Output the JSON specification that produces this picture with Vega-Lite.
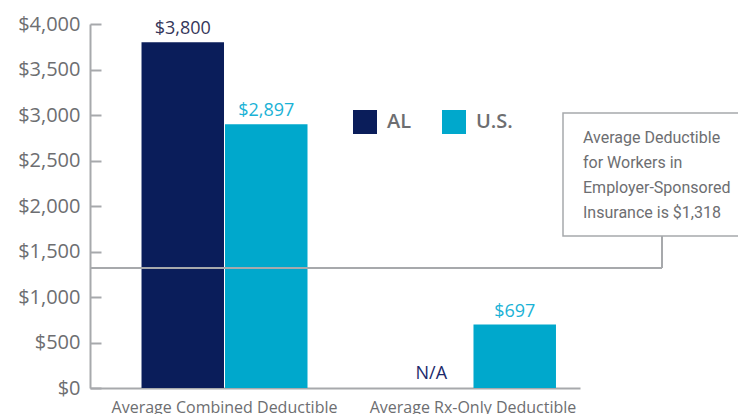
{
  "$schema": "https://vega.github.io/schema/vega-lite/v6.json",
  "width": 490,
  "height": 364,
  "autosize": {"type": "none"},
  "padding": {"left": 90, "top": 24, "right": 158, "bottom": 26},
  "background": "white",
  "config": {"view": {"stroke": null}, "font": "Open Sans"},
  "data": {
    "values": [
      {"category": "Average Combined Deductible", "series": "AL", "value": 3800, "note": ""},
      {"category": "Average Combined Deductible", "series": "U.S.", "value": 2897, "note": ""},
      {"category": "Average Rx-Only Deductible", "series": "AL", "value": null, "note": "N/A"},
      {"category": "Average Rx-Only Deductible", "series": "U.S.", "value": 697, "note": ""}
    ]
  },
  "encoding": {
    "x": {
      "field": "category",
      "type": "nominal",
      "sort": null,
      "scale": {"paddingInner": 0.332, "paddingOuter": 0.152, "align": 0.682},
      "axis": {
        "title": null,
        "ticks": false,
        "labelAngle": 0,
        "labelFontSize": 16,
        "labelColor": "#6d6e71",
        "labelBaseline": "top",
        "labelPadding": 11,
        "labelLimit": 0,
        "domainColor": "#a7a9ac",
        "domainWidth": 2
      }
    },
    "xOffset": {"field": "series", "type": "nominal", "scale": {"paddingInner": 0.012}}
  },
  "layer": [
    {
      "mark": {"type": "bar"},
      "encoding": {
        "y": {
          "field": "value",
          "type": "quantitative",
          "scale": {"domain": [0, 4000], "nice": false},
          "axis": {
            "title": null,
            "values": [0, 500, 1000, 1500, 2000, 2500, 3000, 3500, 4000],
            "format": "$,.0f",
            "grid": false,
            "labelFontSize": 20,
            "labelColor": "#6d6e71",
            "labelPadding": 21,
            "domainColor": "#a7a9ac",
            "domainWidth": 2,
            "tickColor": "#a7a9ac",
            "tickWidth": 2,
            "tickSize": -11
          }
        },
        "color": {
          "field": "series",
          "type": "nominal",
          "scale": {"domain": ["AL", "U.S."], "range": ["#0a1d5a", "#00a8cc"]},
          "legend": {
            "title": null,
            "orient": "none",
            "direction": "horizontal",
            "legendX": 263,
            "legendY": 86,
            "symbolType": "square",
            "symbolSize": 576,
            "symbolStrokeWidth": 0,
            "labelFontSize": 20,
            "labelFontWeight": 600,
            "labelColor": "#6d6e71",
            "labelOffset": 10,
            "columnPadding": 30
          }
        }
      }
    },
    {
      "transform": [{"filter": "datum.value != null"}],
      "mark": {"type": "text", "baseline": "alphabetic", "dy": -8, "fontSize": 18},
      "encoding": {
        "y": {"field": "value", "type": "quantitative"},
        "text": {"field": "value", "type": "quantitative", "format": "$,.0f"},
        "color": {
          "field": "series",
          "type": "nominal",
          "scale": {"domain": ["AL", "U.S."], "range": ["#35365a", "#1ab2d6"]},
          "legend": null
        }
      }
    },
    {
      "transform": [{"filter": "datum.value == null"}],
      "mark": {"type": "text", "baseline": "alphabetic", "dy": -9, "fontSize": 18, "color": "#1c2a6b"},
      "encoding": {
        "y": {"datum": 0},
        "text": {"field": "note"}
      }
    },
    {
      "data": {"values": [{"avg": 1318}]},
      "mark": {"type": "rule", "color": "#a7a9ac", "strokeWidth": 2},
      "encoding": {
        "x": {"value": 0},
        "x2": {"value": 572},
        "y": {"field": "avg", "type": "quantitative"},
        "xOffset": null
      }
    },
    {
      "data": {"values": [{"avg": 1318}]},
      "mark": {"type": "rule", "color": "#a7a9ac", "strokeWidth": 2},
      "encoding": {
        "x": {"value": 572},
        "y": {"field": "avg", "type": "quantitative"},
        "y2": {"value": 212},
        "xOffset": null
      }
    },
    {
      "data": {"values": [{}]},
      "mark": {"type": "rect", "fill": "white", "stroke": "#a7a9ac", "strokeWidth": 1.5},
      "encoding": {
        "x": {"value": 473},
        "x2": {"value": 662},
        "y": {"value": 89},
        "y2": {"value": 212},
        "xOffset": null
      }
    },
    {
      "data": {"values": [{"note": ["Average Deductible", "for Workers in", "Employer-Sponsored", "Insurance is $1,318"]}]},
      "mark": {
        "type": "text",
        "align": "left",
        "baseline": "alphabetic",
        "lineHeight": 25,
        "fontSize": 16,
        "font": "Roboto",
        "color": "#6d6e71"
      },
      "encoding": {
        "x": {"value": 493},
        "y": {"value": 119},
        "text": {"field": "note"},
        "xOffset": null
      }
    }
  ],
  "resolve": {"scale": {"color": "independent"}}
}
